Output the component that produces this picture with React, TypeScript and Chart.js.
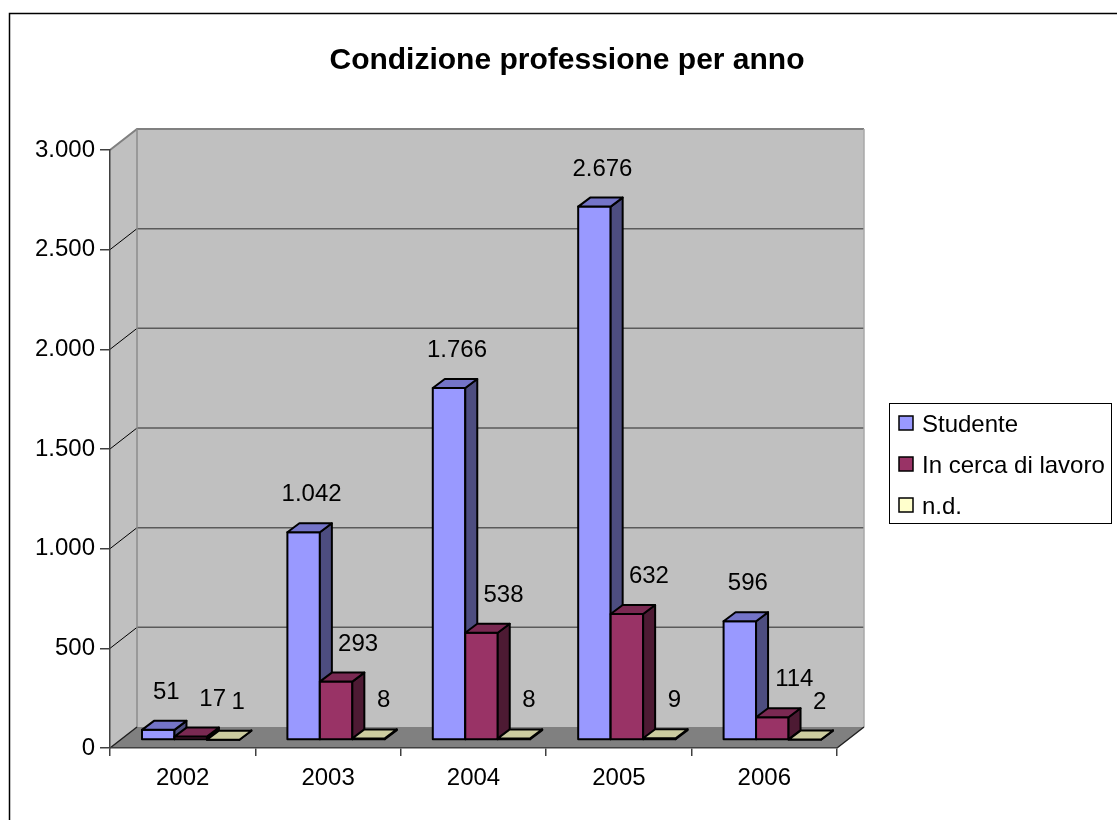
import React, { useEffect, useRef } from "react";
import { Chart, registerables } from "chart.js";

Chart.register(...registerables);

const categories = ["2002", "2003", "2004", "2005", "2006"];
const seriesNames = ["Studente", "In cerca di lavoro", "n.d."];
const studente = [51, 1042, 1766, 2676, 596];
const inCerca = [17, 293, 538, 632, 114];
const nonDisp = [1, 8, 8, 9, 2];
const yMin = 0;
const yMax = 3000;
const yStep = 500;

const FRONT = ["#9999FF", "#993366", "#FFFFCC"];
const TOP = ["#7474C8", "#7A2952", "#CCCCA0"];
const SIDE = ["#4D4D80", "#4D1A33", "#80806A"];
const LABEL_DX = [16, 30, 23];

const FONT = '"Liberation Sans", Arial, sans-serif';

const fmt = (v: number) =>
  String(Math.round(v)).replace(/\B(?=(\d{3})+(?!\d))/g, ".");

const WALL_DX = 27;
const WALL_DY = -21;
const BAR_SHIFT_X = 8;
const BAR_SHIFT_Y = -8;
const BAR_DX = 12;
const BAR_DY = -9;

function poly(ctx: CanvasRenderingContext2D, pts: number[][]) {
  ctx.beginPath();
  ctx.moveTo(pts[0][0], pts[0][1]);
  for (let i = 1; i < pts.length; i++) ctx.lineTo(pts[i][0], pts[i][1]);
  ctx.closePath();
}

const threeD = {
  id: "threeD",
  beforeDraw(chart: any) {
    const { ctx, chartArea: a, scales } = chart;
    const y = scales.y;
    const yTop = y.getPixelForValue(yMax);
    const yBot = y.getPixelForValue(yMin);
    ctx.save();
    // left wall
    poly(ctx, [
      [a.left, yTop],
      [a.left + WALL_DX, yTop + WALL_DY],
      [a.left + WALL_DX, yBot + WALL_DY],
      [a.left, yBot],
    ]);
    ctx.fillStyle = "#C0C0C0";
    ctx.fill();
    // back wall
    ctx.fillRect(a.left + WALL_DX, yTop + WALL_DY, a.right - a.left, yBot - yTop);
    // floor
    poly(ctx, [
      [a.left, yBot],
      [a.right, yBot],
      [a.right + WALL_DX, yBot + WALL_DY],
      [a.left + WALL_DX, yBot + WALL_DY],
    ]);
    ctx.fillStyle = "#808080";
    ctx.fill();
    // gridlines
    for (const t of y.ticks) {
      if (t.value <= yMin || t.value >= yMax) continue;
      const yf = y.getPixelForValue(t.value);
      ctx.beginPath();
      ctx.moveTo(a.left, yf);
      ctx.lineTo(a.left + WALL_DX, yf + WALL_DY);
      ctx.strokeStyle = "#000";
      ctx.lineWidth = 1;
      ctx.stroke();
      ctx.beginPath();
      ctx.moveTo(a.left + WALL_DX, yf + WALL_DY);
      ctx.lineTo(a.right + WALL_DX, yf + WALL_DY);
      ctx.strokeStyle = "#5A5A5A";
      ctx.lineWidth = 1.5;
      ctx.stroke();
    }
    // outline edges
    ctx.strokeStyle = "#808080";
    ctx.lineWidth = 2;
    ctx.beginPath();
    ctx.moveTo(a.left, yTop);
    ctx.lineTo(a.left + WALL_DX, yTop + WALL_DY);
    ctx.lineTo(a.right + WALL_DX, yTop + WALL_DY);
    ctx.stroke();
    ctx.lineWidth = 1.5;
    ctx.strokeStyle = "#8C8C8C";
    ctx.beginPath();
    ctx.moveTo(a.left + WALL_DX, yTop + WALL_DY);
    ctx.lineTo(a.left + WALL_DX, yBot + WALL_DY);
    ctx.stroke();
    ctx.strokeStyle = "#A8A8A8";
    ctx.beginPath();
    ctx.moveTo(a.right + WALL_DX, yTop + WALL_DY);
    ctx.lineTo(a.right + WALL_DX, yBot + WALL_DY);
    ctx.stroke();
    ctx.strokeStyle = "#202020";
    ctx.beginPath();
    ctx.moveTo(a.left, yBot);
    ctx.lineTo(a.left + WALL_DX, yBot + WALL_DY);
    ctx.moveTo(a.right, yBot);
    ctx.lineTo(a.right + WALL_DX, yBot + WALL_DY);
    ctx.stroke();
    ctx.restore();
  },
  beforeDatasetDraw() {
    return false;
  },
  afterDatasetsDraw(chart: any) {
    const { ctx } = chart;
    const n = chart.data.labels.length;
    const metas = chart.data.datasets.map((_: any, i: number) => chart.getDatasetMeta(i));
    ctx.save();
    ctx.lineJoin = "round";
    ctx.strokeStyle = "#000";
    ctx.lineWidth = 2;
    for (let j = 0; j < n; j++) {
      metas.forEach((meta: any, i: number) => {
        const el = meta.data[j];
        const p = el.getProps(["x", "y", "base", "width"], true);
        const x0 = p.x - p.width / 2 + BAR_SHIFT_X;
        const x1 = p.x + p.width / 2 + BAR_SHIFT_X;
        const yt = p.y + BAR_SHIFT_Y;
        const yb = p.base + BAR_SHIFT_Y;
        // front
        poly(ctx, [[x0, yt], [x1, yt], [x1, yb], [x0, yb]]);
        ctx.fillStyle = FRONT[i];
        ctx.fill();
        ctx.stroke();
        // side
        poly(ctx, [[x1, yt], [x1 + BAR_DX, yt + BAR_DY], [x1 + BAR_DX, yb + BAR_DY], [x1, yb]]);
        ctx.fillStyle = SIDE[i];
        ctx.fill();
        ctx.stroke();
        // top
        poly(ctx, [[x0, yt], [x0 + BAR_DX, yt + BAR_DY], [x1 + BAR_DX, yt + BAR_DY], [x1, yt]]);
        ctx.fillStyle = TOP[i];
        ctx.fill();
        ctx.stroke();
      });
    }
    // labels
    ctx.fillStyle = "#000";
    ctx.font = `24px ${FONT}`;
    ctx.textAlign = "center";
    ctx.textBaseline = "alphabetic";
    for (let j = 0; j < n; j++) {
      metas.forEach((meta: any, i: number) => {
        const el = meta.data[j];
        const p = el.getProps(["x", "y"], true);
        const v = chart.data.datasets[i].data[j];
        ctx.fillText(fmt(v), p.x + LABEL_DX[i], p.y + BAR_SHIFT_Y - 31);
      });
    }
    ctx.restore();
  },
  afterDraw(chart: any) {
    const { ctx } = chart;
    ctx.save();
    // frame
    ctx.strokeStyle = "#000";
    ctx.lineWidth = 1.5;
    ctx.beginPath();
    ctx.moveTo(9.5, 900);
    ctx.lineTo(9.5, 13.5);
    ctx.lineTo(1200, 13.5);
    ctx.stroke();
    // title
    ctx.fillStyle = "#000";
    ctx.font = `bold 30px ${FONT}`;
    ctx.textAlign = "center";
    ctx.textBaseline = "alphabetic";
    ctx.fillText("Condizione professione per anno", 567, 69);
    // legend
    const lx = 889.5, ly = 403.5, lw = 222, lh = 120;
    ctx.lineWidth = 1;
    ctx.strokeStyle = "#000";
    ctx.strokeRect(lx, ly, lw, lh);
    ctx.font = `24px ${FONT}`;
    ctx.textAlign = "left";
    const rows = [423, 464, 505];
    chart.data.datasets.forEach((ds: any, i: number) => {
      const cy = rows[i];
      ctx.fillStyle = FRONT[i];
      ctx.fillRect(899, cy - 7, 14, 14);
      ctx.lineWidth = 1.5;
      ctx.strokeStyle = "#000";
      ctx.strokeRect(899, cy - 7, 14, 14);
      ctx.fillStyle = "#000";
      ctx.fillText(ds.label, 922, cy + 8.5);
    });
    ctx.restore();
  },
};

export default function App() {
  const ref = useRef<HTMLCanvasElement>(null);
  useEffect(() => {
    if (!ref.current) return;
    Chart.defaults.font.family = FONT;
    const series = [studente, inCerca, nonDisp];
    const chart = new Chart(ref.current, {
      type: "bar",
      data: {
        labels: categories,
        datasets: series.map((d, i) => ({
          label: seriesNames[i],
          data: d,
          backgroundColor: FRONT[i],
          categoryPercentage: 0.67,
          barPercentage: 1,
        })),
      },
      options: {
        animation: false,
        responsive: false,
        maintainAspectRatio: false,
        devicePixelRatio: 1,
        layout: { padding: { top: 150, right: 280, left: 0, bottom: 0 } },
        plugins: {
          legend: { display: false },
          title: { display: false },
          tooltip: { enabled: false },
        },
        scales: {
          x: {
            grid: {
              offset: true,
              drawOnChartArea: false,
              tickLength: 8,
              color: "#404040",
              lineWidth: 1.5,
            },
            border: { color: "#404040", width: 1.5 },
            ticks: { color: "#000", font: { size: 24 }, padding: 8 },
            afterFit: (s: any) => {
              s.height = 72;
            },
          },
          y: {
            min: yMin,
            max: yMax,
            ticks: {
              stepSize: yStep,
              color: "#000",
              font: { size: 24 },
              padding: 5,
              callback: (v: any) => fmt(Number(v)),
            },
            grid: {
              drawOnChartArea: false,
              tickLength: 10,
              color: "#404040",
              lineWidth: 1.5,
            },
            border: { color: "#404040", width: 1.5 },
            afterFit: (s: any) => {
              s.width = 110;
            },
          },
        },
      } as any,
      plugins: [threeD as any],
    });
    return () => chart.destroy();
  }, []);
  return (
    <div
      style={{
        position: "fixed",
        left: 0,
        top: 0,
        width: 1117,
        height: 820,
        overflow: "hidden",
        background: "#fff",
      }}
    >
      <canvas ref={ref} width={1117} height={820} style={{ display: "block" }} />
    </div>
  );
}
